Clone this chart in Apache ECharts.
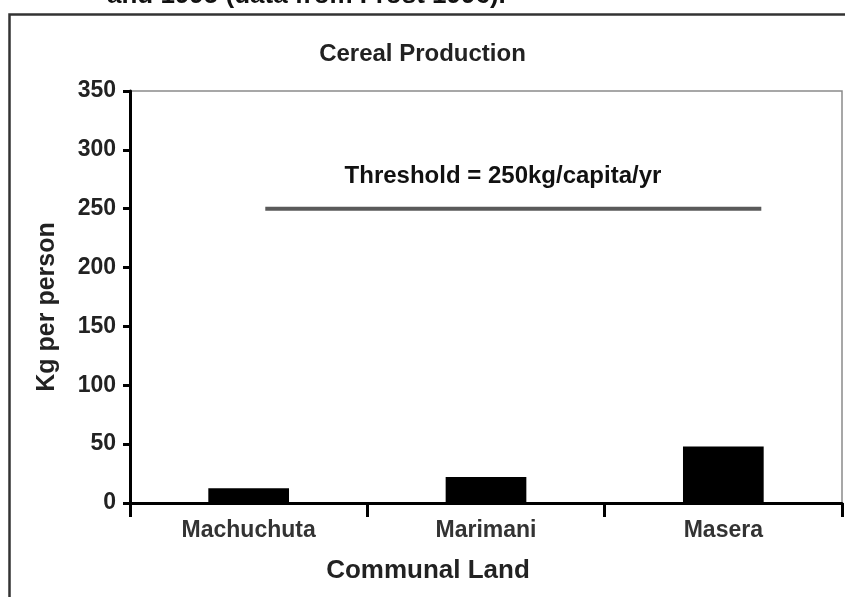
<!DOCTYPE html>
<html>
<head>
<meta charset="utf-8">
<script src="https://cdn.jsdelivr.net/npm/echarts@6/dist/echarts.min.js"></script>
<style>
  html, body { margin: 0; padding: 0; background: #fff; }
  #chart { width: 845px; height: 597px; }
</style>
</head>
<body>
<div id="chart"></div>
<script>
// 数据
var lands = ['Machuchuta', 'Marimani', 'Masera'];
var kgPerPerson = [12.5, 22, 48];
var yTicks = [0, 350, 50]; // min, max, interval
var threshold = 250;
// threshold line runs from a bit right of the first bar to the right edge of the last
var thresholdSpan = [0.07, 2.16];

var FONT = '"Liberation Sans", Arial, sans-serif';

var chart = echarts.init(document.getElementById('chart'));
chart.setOption({
    animation: false,
    title: {
        text: 'Cereal Production',
        left: 'center',
        top: 37,
        textStyle: { fontFamily: FONT, fontSize: 24, fontWeight: 'bold', color: '#222' }
    },
    grid: {
        left: 130,
        right: 3,
        top: 91,
        bottom: 94,
        show: true,
        borderColor: '#8a8a8a',
        borderWidth: 1.5
    },
    xAxis: [
        {
            type: 'category',
            data: lands,
            name: 'Communal Land',
            nameLocation: 'middle',
            nameGap: 55,
            nameTextStyle: {
                fontFamily: FONT, fontSize: 26, fontWeight: 'bold', color: '#222',
                padding: [0, 116, 0, 0]
            },
            axisLine: { onZero: false, lineStyle: { color: '#000', width: 3 } },
            axisTick: { show: true, length: 14, lineStyle: { color: '#000', width: 3 } },
            axisLabel: {
                margin: 16,
                fontFamily: FONT, fontSize: 23, fontWeight: 'bold', color: '#333'
            }
        },
        {
            // hidden helper axis for the threshold line
            type: 'value',
            min: -0.5,
            max: 2.5,
            show: false
        }
    ],
    yAxis: {
        type: 'value',
        min: yTicks[0],
        max: yTicks[1],
        interval: yTicks[2],
        name: 'Kg per person',
        nameLocation: 'middle',
        nameGap: 70,
        nameTextStyle: {
            fontFamily: FONT, fontSize: 25, fontWeight: 'bold', color: '#222',
            padding: [0, 20, 0, 0]
        },
        axisLine: { show: true, onZero: false, lineStyle: { color: '#000', width: 3 } },
        axisTick: { show: true, length: 7, lineStyle: { color: '#000', width: 3 } },
        splitLine: { show: false },
        axisLabel: {
            margin: 14,
            fontFamily: FONT, fontSize: 23, fontWeight: 'bold', color: '#222'
        }
    },
    series: [
        {
            name: 'Cereal',
            type: 'bar',
            data: kgPerPerson,
            barWidth: '34%',
            itemStyle: { color: '#000' },
            z: 3
        },
        {
            name: 'Threshold',
            type: 'line',
            xAxisIndex: 1,
            data: [[thresholdSpan[0], threshold], [thresholdSpan[1], threshold]],
            showSymbol: false,
            symbol: 'none',
            lineStyle: { color: '#5a5a5a', width: 4 },
            silent: true
        }
    ],
    graphic: [
        {
            // outer frame of the figure
            type: 'rect',
            shape: { x: 9.5, y: 14.5, width: 900, height: 700 },
            style: { fill: 'none', stroke: '#333', lineWidth: 2.5 },
            silent: true
        },
        {
            // caption, cut at the top of the picture
            type: 'text',
            x: 107,
            y: -4,
            style: {
                text: 'and 1995 (data from Frost 1996).',
                font: 'bold 26px ' + FONT,
                fill: '#111',
                textAlign: 'left',
                textVerticalAlign: 'middle'
            }
        },
        {
            type: 'text',
            x: 503,
            y: 176,
            style: {
                text: 'Threshold = 250kg/capita/yr',
                font: 'bold 24px ' + FONT,
                fill: '#111',
                textAlign: 'center',
                textVerticalAlign: 'middle'
            }
        }
    ]
});
</script>
</body>
</html>
